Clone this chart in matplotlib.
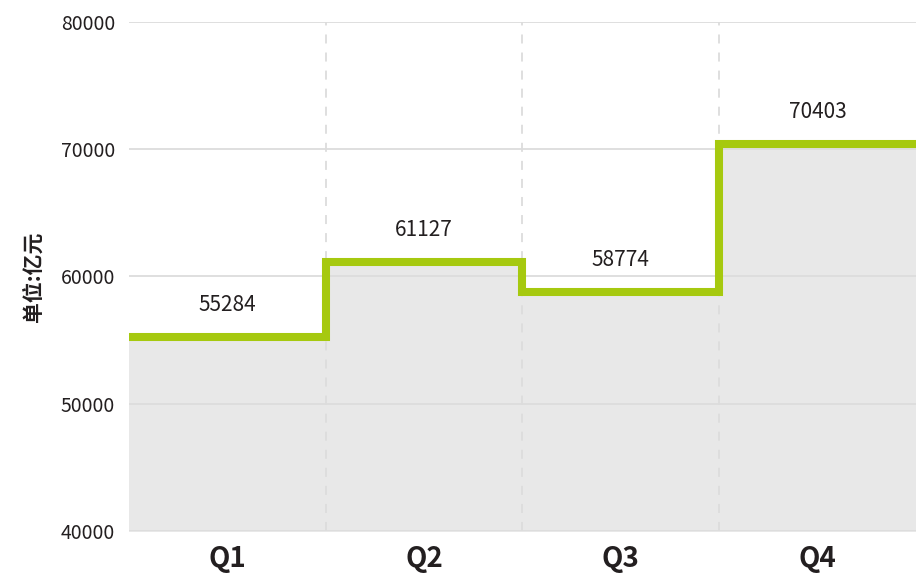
import numpy as np
import matplotlib
matplotlib.use('Agg')
from matplotlib import pyplot as plt

plt.rcParams['font.family'] = ['Noto Sans CJK SC', 'DejaVu Sans']

#---------------------------- DATA ----------------------------
quarters = ['Q1', 'Q2', 'Q3', 'Q4']
values = [55284, 61127, 58774, 70403]
y_ticks = [40000, 50000, 60000, 70000, 80000]

GREEN = '#a6c90f'
FILL = '#e8e8e8'
GRID = '#dcdcdc'
TEXT = '#231f20'

fig = plt.figure(figsize=(9.16, 5.81), dpi=100)
ax = fig.add_axes([0.1408, 0.0861, 0.8592, 0.876])

edges = np.arange(len(quarters) + 1)
step_vals = values + [values[-1]]

# grey area under the step line
ax.fill_between(edges, step_vals, y_ticks[0], step='post', color=FILL, zorder=1)
ax.step(edges, step_vals, where='post', color=GREEN, linewidth=5.8, zorder=3,
        solid_joinstyle='miter', solid_capstyle='butt')

# value labels
for i, v in enumerate(values):
    ax.annotate(str(v), (i + 0.5, v), xytext=(0, 23), textcoords='offset points',
                ha='center', va='center', fontsize=15, color=TEXT, zorder=4)

# grid
for t in y_ticks:
    ax.axhline(t, color=GRID, linewidth=1.3, zorder=2)
for b in edges[1:-1]:
    ax.axvline(b, color=GRID, linewidth=1.3, linestyle=(0, (5, 5)), zorder=2)

ax.set_xlim(0, len(quarters))
ax.set_ylim(y_ticks[0], y_ticks[-1])
ax.set_yticks(y_ticks)
ax.set_yticklabels([str(t) for t in y_ticks], fontsize=14, color=TEXT)
ax.set_xticks(edges[:-1] + 0.5)
ax.set_xticklabels(quarters, fontsize=20, fontweight='bold', color=TEXT)
ax.tick_params(axis='both', length=0)
ax.tick_params(axis='y', pad=10)
ax.tick_params(axis='x', pad=10)
ax.set_ylabel('单位:亿元', fontsize=15, color=TEXT, labelpad=12, fontweight='bold')

for s in ax.spines.values():
    s.set_visible(False)

plt.savefig('out.png', dpi=100)
